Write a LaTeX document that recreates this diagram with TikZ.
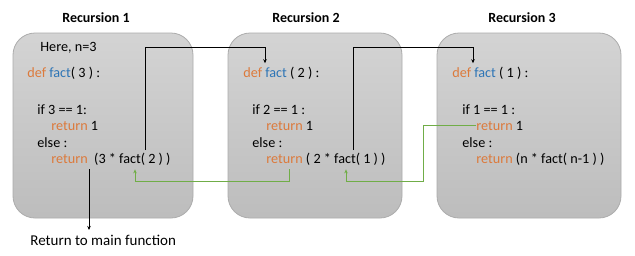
\documentclass[tikz,border=0pt]{standalone}
\usepackage{fontspec}
\setmainfont{Carlito}
\usetikzlibrary{arrows.meta}
\definecolor{kworange}{HTML}{DC7A3C}
\definecolor{fnblue}{HTML}{2E75B6}
\definecolor{backgreen}{HTML}{70AD47}
\newcommand{\kw}[1]{\textcolor{kworange}{#1}}
\newcommand{\fn}[1]{\textcolor{fnblue}{#1}}
\begin{document}
\begin{tikzpicture}[x=1pt, y=-1pt, line width=0.8pt,
  box/.style={draw=gray!65, rounded corners=22pt, top color=black!17, bottom color=black!26,
    minimum height=185pt, inner sep=0pt},
  code/.style={anchor=base west, inner sep=0pt, font=\fontsize{14.2}{16}\selectfont},
  title/.style={anchor=base, inner sep=0pt, font=\fontsize{14}{16}\selectfont\bfseries},
  call/.style={-{Stealth[length=4pt, width=3.5pt]}},
  back/.style={call, backgreen}]
  \useasboundingbox (0,0) rectangle (635,255);
  \fill[white] (0,0) rectangle (635,255);
  % drei Rekursionsstufen
  \node[box, minimum width=180pt] (box1) at (103,125.5) {};
  \node[box, minimum width=174pt] (box2) at (315,125.5) {};
  \node[box, minimum width=184pt] (box3) at (529,125.5) {};
  \node[title] (tit1) at (96,22) {Recursion 1};
  \node[title] (tit2) at (306,22) {Recursion 2};
  \node[title] (tit3) at (522,22) {Recursion 3};
  % Stufe 1
  \node[code] (here1) at (40,51) {Here, n=3};
  \node[code] (def1) at (27,77) {\kw{def} \fn{fact}( 3 ) :};
  \node[code] (if1) at (37,114) {if 3 == 1:};
  \node[code] (one1) at (51,130) {\kw{return} 1};
  \node[code] (else1) at (37,147) {else :};
  \node[code] (ret1) at (51,163) {\kw{return}\ \ (3 * fact( 2 ) )};
  % Stufe 2
  \node[code] (def2) at (243,77) {\kw{def} \fn{fact} ( 2 ) :};
  \node[code] (if2) at (252,114) {if 2 == 1 :};
  \node[code] (one2) at (266,130) {\kw{return} 1};
  \node[code] (else2) at (252,147) {else :};
  \node[code] (ret2) at (266,163) {\kw{return} ( 2 * fact( 1 ) )};
  % Stufe 3
  \node[code] (def3) at (452,77) {\kw{def} \fn{fact} ( 1 ) :};
  \node[code] (if3) at (462,114) {if 1 == 1 :};
  \node[code] (one3) at (476,130) {\kw{return} 1};
  \node[code] (else3) at (462,147) {else :};
  \node[code] (ret3) at (476,163) {\kw{return} (n * fact( n-1 ) )};
  \node[code, font=\fontsize{15}{17}\selectfont] (main) at (30,245) {Return to main function};
  \coordinate (top) at (0,47.5);
  \coordinate (low) at (0,181);
  \coordinate (exit) at (89,230);
  % Aufrufe
  \draw[call] ([xshift=94pt, yshift=2pt]ret1.north west) -- ([xshift=94pt]ret1.north west |- top)
    -| ([xshift=22pt, yshift=3pt]def2.north west);
  \draw[call] ([xshift=87pt, yshift=2pt]ret2.north west) -- ([xshift=87pt]ret2.north west |- top)
    -| ([xshift=21pt, yshift=3pt]def3.north west);
  % Rueckgaben
  \draw[back] (one3.west) -| ([xshift=-53pt]one3.west |- low)
    -| ([xshift=80pt, yshift=-4pt]ret2.south west);
  \draw[back] ([xshift=23pt, yshift=-4pt]ret2.south west) -- ([xshift=23pt]ret2.south west |- low)
    -| ([xshift=84pt, yshift=-4pt]ret1.south west);
  \draw[call] ([xshift=38pt, yshift=-4pt]ret1.south west) -- (exit);
\end{tikzpicture}
\end{document}
